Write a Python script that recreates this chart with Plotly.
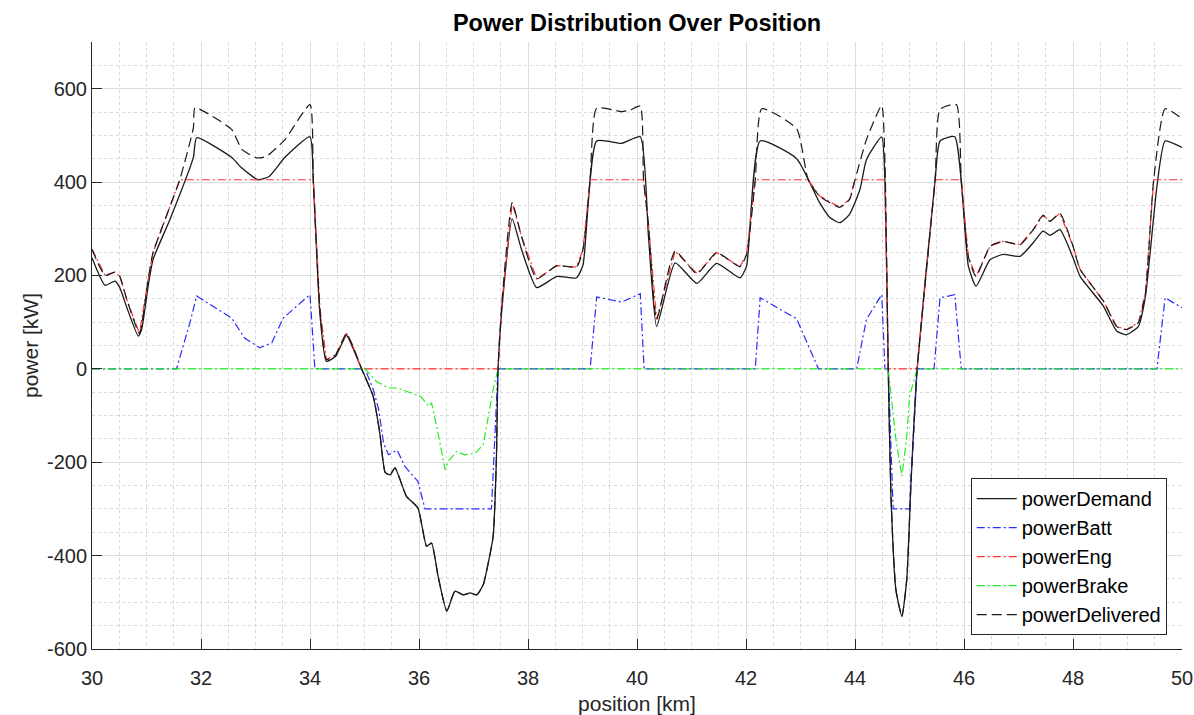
import plotly.graph_objects as go

# ---------------- data ----------------
demand_x = [30.00, 30.24, 30.42, 30.51, 30.64, 30.85, 30.91, 31.03, 31.12, 31.43, 31.86, 31.92,
            32.56, 32.75, 33.05, 33.25, 33.54, 34.00, 34.06, 34.18, 34.30, 34.47, 34.67, 34.80,
            34.94, 35.16, 35.28, 35.38, 35.47, 35.56, 35.77, 35.98, 36.14, 36.23, 36.35, 36.51,
            36.66, 36.81, 36.94, 37.06, 37.18, 37.27, 37.36, 37.42, 37.45, 37.52, 37.71, 37.88,
            38.16, 38.53, 38.89, 39.01, 39.26, 39.72, 40.06, 40.21, 40.36, 40.70, 41.10, 41.46,
            41.89, 42.01, 42.26, 42.93, 43.35, 43.54, 43.72, 43.90, 44.09, 44.21, 44.49, 44.55,
            44.61, 44.66, 44.75, 44.86, 44.95, 45.03, 45.14, 45.47, 45.56, 45.83, 46.08, 46.22,
            46.48, 46.72, 47.03, 47.27, 47.45, 47.58, 47.76, 48.00, 48.13, 48.56, 48.80, 48.98,
            49.20, 49.33, 49.54, 49.69, 50.00]
demand_y = [238, 179, 188, 174, 131, 70, 84, 177, 234, 320, 453, 495,
            453, 430, 405, 412, 453, 497, 405, 120, 16, 27, 72, 41,
            2, -59, -137, -222, -227, -212, -273, -298, -380, -373, -444, -519,
            -476, -484, -480, -484, -462, -416, -359, -194, 0, 127, 321, 256,
            174, 198, 195, 223, 488, 483, 497, 284, 91, 227, 183, 226,
            195, 220, 488, 450, 356, 324, 313, 331, 384, 448, 497, 400,
            0, -273, -473, -530, -451, -237, 0, 405, 488, 497, 220, 177,
            234, 245, 241, 270, 295, 286, 298, 238, 198, 134, 81, 73,
            91, 156, 391, 488, 474]

batt_x = [30.00, 31.55, 31.80, 31.92, 32.56, 32.80, 33.08, 33.30, 33.51, 34.00, 34.09, 35.01,
          35.16, 35.26, 35.35, 35.44, 35.60, 35.74, 35.98, 36.11, 37.33, 37.45, 39.14, 39.26,
          39.72, 40.06, 40.13, 42.17, 42.26, 42.93, 43.33, 44.03, 44.21, 44.49, 44.55, 44.61,
          44.70, 45.00, 45.14, 45.45, 45.56, 45.83, 45.95, 49.54, 49.69, 50.00]
batt_y = [0, 0, 100, 156, 109, 66, 45, 56, 109, 159, 0, 0,
          -44, -87, -159, -184, -174, -209, -241, -300, -300, 0, 0, 154,
          143, 161, 0, 0, 152, 107, 0, 0, 106, 159, 0, 0,
          -300, -300, 0, 0, 152, 159, 0, 0, 152, 131]

eng_x = [30.00, 30.24, 30.42, 30.51, 30.64, 30.87, 31.03, 31.12, 31.61, 34.06, 34.18, 34.30,
         34.47, 34.67, 34.80, 34.94, 37.45, 37.52, 37.71, 37.88, 38.16, 38.53, 38.89, 39.01,
         39.14, 40.12, 40.21, 40.36, 40.70, 41.10, 41.46, 41.89, 42.01, 42.17, 43.14, 43.35,
         43.72, 43.90, 44.00, 44.55, 44.61, 45.14, 45.47, 45.95, 46.08, 46.22, 46.48, 46.72,
         47.03, 47.27, 47.45, 47.58, 47.76, 48.00, 48.13, 48.56, 48.80, 48.98, 49.20, 49.33,
         49.48, 50.00]
eng_y = [256, 200, 207, 198, 148, 76, 191, 249, 405, 405, 132, 20,
         30, 76, 45, 0, 0, 140, 356, 284, 193, 221, 218, 256,
         405, 405, 310, 106, 252, 204, 249, 219, 245, 405, 405, 370,
         346, 363, 405, 405, 0, 0, 405, 405, 240, 198, 263, 273,
         266, 298, 329, 316, 333, 263, 213, 145, 91, 84, 99, 163,
         405, 405]

brake_x = [30.00, 35.01, 35.22, 35.44, 35.60, 36.03, 36.18, 36.23, 36.33, 36.48, 36.54, 36.69,
           36.84, 37.03, 37.18, 37.24, 37.36, 37.45, 44.61, 44.75, 44.86, 44.95, 45.00, 45.14,
           50.00]
brake_y = [0, 0, -27, -41, -41, -59, -80, -73, -126, -216, -198, -177,
           -184, -181, -162, -123, -44, 0, 0, -151, -230, -144, -59, 0,
           0]

deliv_x = [30.00, 30.24, 30.42, 30.51, 30.64, 30.87, 31.03, 31.12, 31.61, 31.86, 31.89, 32.56,
           32.75, 33.02, 33.20, 33.54, 34.00, 34.06, 34.18, 34.30, 34.47, 34.67, 34.80, 34.94,
           35.16, 35.28, 35.38, 35.47, 35.56, 35.77, 35.98, 36.14, 36.23, 36.35, 36.51, 36.66,
           36.81, 36.94, 37.06, 37.18, 37.27, 37.36, 37.42, 37.45, 37.52, 37.71, 37.88, 38.16,
           38.53, 38.89, 39.01, 39.14, 39.26, 39.72, 39.87, 40.06, 40.12, 40.21, 40.36, 40.70,
           41.10, 41.46, 41.89, 42.01, 42.17, 42.29, 42.93, 43.14, 43.35, 43.72, 43.90, 44.00,
           44.21, 44.49, 44.55, 44.61, 44.66, 44.75, 44.86, 44.95, 45.03, 45.14, 45.47, 45.56,
           45.86, 45.95, 46.08, 46.22, 46.48, 46.72, 47.03, 47.27, 47.45, 47.58, 47.76, 48.00,
           48.13, 48.56, 48.80, 48.98, 49.20, 49.33, 49.48, 49.69, 50.00]
deliv_y = [256, 200, 207, 198, 148, 76, 191, 249, 405, 516, 559, 513,
           470, 452, 455, 491, 566, 405, 132, 20, 30, 76, 45, 2,
           -59, -137, -222, -227, -212, -273, -298, -380, -373, -444, -519, -476,
           -484, -480, -484, -462, -416, -359, -194, 0, 140, 356, 284, 193,
           221, 218, 256, 405, 558, 551, 554, 563, 405, 310, 106, 252,
           204, 249, 219, 245, 405, 557, 514, 405, 370, 346, 363, 405,
           491, 564, 440, 0, -273, -473, -530, -451, -237, 0, 405, 556,
           566, 405, 240, 198, 263, 273, 266, 298, 329, 316, 333, 263,
           213, 145, 91, 84, 99, 163, 405, 557, 536]

x_ticks = [30, 32, 34, 36, 38, 40, 42, 44, 46, 48, 50]
y_ticks = [-600, -400, -200, 0, 200, 400, 600]

FONT = "Liberation Sans, Arial, sans-serif"
DASHDOT = "8px,3px,2px,3px"

fig = go.Figure()
fig.add_trace(go.Scatter(x=demand_x, y=demand_y, mode="lines", name="powerDemand",
                         line=dict(color="#1a1a1a", width=1.3, shape="spline", smoothing=0.5)))
fig.add_trace(go.Scatter(x=batt_x, y=batt_y, mode="lines", name="powerBatt",
                         line=dict(color="#2a2aff", width=1.2, dash=DASHDOT)))
fig.add_trace(go.Scatter(x=eng_x, y=eng_y, mode="lines", name="powerEng",
                         line=dict(color="#ff3030", width=1.2, dash=DASHDOT)))
fig.add_trace(go.Scatter(x=brake_x, y=brake_y, mode="lines", name="powerBrake",
                         line=dict(color="#22ee22", width=1.2, dash=DASHDOT)))
fig.add_trace(go.Scatter(x=deliv_x, y=deliv_y, mode="lines", name="powerDelivered",
                         line=dict(color="#1a1a1a", width=1.2, dash="10px,5px",
                                   shape="spline", smoothing=0.5)))

axis_common = dict(
    showgrid=True, gridcolor="#dedede", gridwidth=1,
    zeroline=False, showline=True, linecolor="#262626", linewidth=1,
    ticks="inside", ticklen=10, tickcolor="#262626",
    tickfont=dict(family=FONT, size=20, color="#262626"),
    mirror=False, automargin=False,
)

fig.update_layout(
    width=1194, height=715,
    margin=dict(l=92, r=12, t=42, b=66, autoexpand=False),
    paper_bgcolor="white", plot_bgcolor="white",
    title=dict(text="<b>Power Distribution Over Position</b>", x=0.5, xref="paper",
               y=0.98, yanchor="top",
               font=dict(family=FONT, size=23.5, color="black")),
    xaxis=dict(range=[30, 50], tickvals=x_ticks, ticktext=[str(v) for v in x_ticks],
               ticklabelstandoff=11,
               title=dict(text="position [km]", font=dict(family=FONT, size=21, color="#262626"),
                          standoff=8),
               minor=dict(dtick=0.5, showgrid=True, gridcolor="#d9d9d9", griddash="dot",
                          gridwidth=1, ticks=""),
               **axis_common),
    yaxis=dict(range=[-600, 700], tickvals=y_ticks, ticktext=[str(v) for v in y_ticks],
               title=dict(text="power [kW]", font=dict(family=FONT, size=21, color="#262626"),
                          standoff=2),
               minor=dict(dtick=50, tick0=0, showgrid=True, gridcolor="#d9d9d9", griddash="dot",
                          gridwidth=1, ticks=""),
               **axis_common),
    legend=dict(x=0.986, y=0.023, xanchor="right", yanchor="bottom",
                bgcolor="white", bordercolor="#262626", borderwidth=1,
                font=dict(family=FONT, size=20, color="black"),
                itemwidth=40, tracegroupgap=0),
    showlegend=True,
)

fig.write_html("out.html")
